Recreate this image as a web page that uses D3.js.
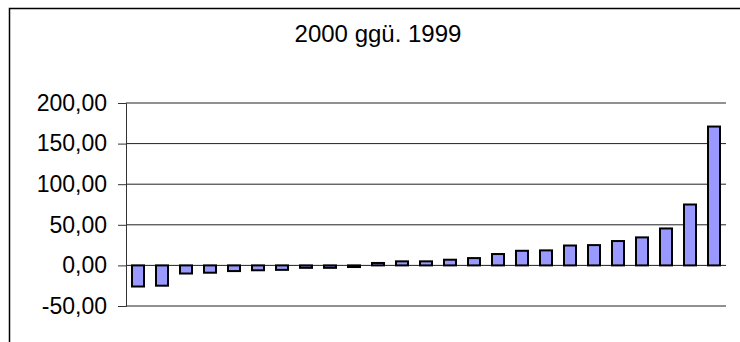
<!DOCTYPE html>
<html>
<head>
<meta charset="utf-8">
<script src="https://cdn.jsdelivr.net/npm/d3@7"></script>
<style>
  html, body { margin: 0; padding: 0; background: #fff; }
  svg { display: block; }
  text { font-family: "Liberation Sans", Arial, sans-serif; fill: #000; }
</style>
</head>
<body>
<svg id="chart" width="740" height="342"></svg>
<script>
const title = "2000 ggü. 1999";
const categories = d3.range(1, 26).map(String);
const values = [-26, -25, -10, -9, -7, -6, -5.5, -3, -3, -2, 3, 5, 5, 7, 9, 14, 18, 18.5, 24.5, 25, 30, 34.5, 45.5, 75, 171];
const yTicks = [-50, 0, 50, 100, 150, 200];
const yTickLabels = ["-50,00", "0,00", "50,00", "100,00", "150,00", "200,00"];

const svg = d3.select("#chart");
const W = 740, H = 342;
const plot = { left: 126, right: 726, top: 103, bottom: 306 };

// outer chart border (extends beyond the visible window on right/bottom)
svg.append("rect")
  .attr("x", 9.5).attr("y", 8.5)
  .attr("width", 800).attr("height", 400)
  .attr("fill", "#fff").attr("stroke", "#000").attr("stroke-width", 1.5);

// title
svg.append("text")
  .attr("x", 378).attr("y", 42)
  .attr("text-anchor", "middle")
  .attr("font-size", 24)
  .text(title);

const x = d3.scaleBand().domain(categories).range([plot.left, plot.right]).paddingInner(0.5).paddingOuter(0.25);
const y = d3.scaleLinear().domain([-50, 200]).range([plot.bottom, plot.top]);

// gridlines
svg.append("g")
  .selectAll("line")
  .data(yTicks)
  .join("line")
  .attr("x1", plot.left).attr("x2", plot.right)
  .attr("y1", d => y(d)).attr("y2", d => y(d))
  .attr("stroke", "#222").attr("stroke-width", 1);

// y axis
const yAxis = d3.axisLeft(y)
  .tickValues(yTicks)
  .tickSize(8)
  .tickPadding(11)
  .tickFormat((d, i) => yTickLabels[i]);

const gy = svg.append("g")
  .attr("transform", `translate(${plot.left},0)`)
  .call(yAxis);
gy.select(".domain").attr("stroke", "#333");
gy.selectAll(".tick line").attr("stroke", "#333");
gy.selectAll(".tick text")
  .attr("font-size", 23)
  .attr("font-family", "Liberation Sans, Arial, sans-serif")
  .attr("fill", "#000");

// bars
svg.append("g")
  .selectAll("rect")
  .data(values)
  .join("rect")
  .attr("x", (d, i) => x(categories[i]))
  .attr("width", x.bandwidth())
  .attr("y", d => y(Math.max(0, d)))
  .attr("height", d => Math.abs(y(d) - y(0)))
  .attr("fill", "#9999FF")
  .attr("stroke", "#000")
  .attr("stroke-width", 2);
</script>
</body>
</html>
